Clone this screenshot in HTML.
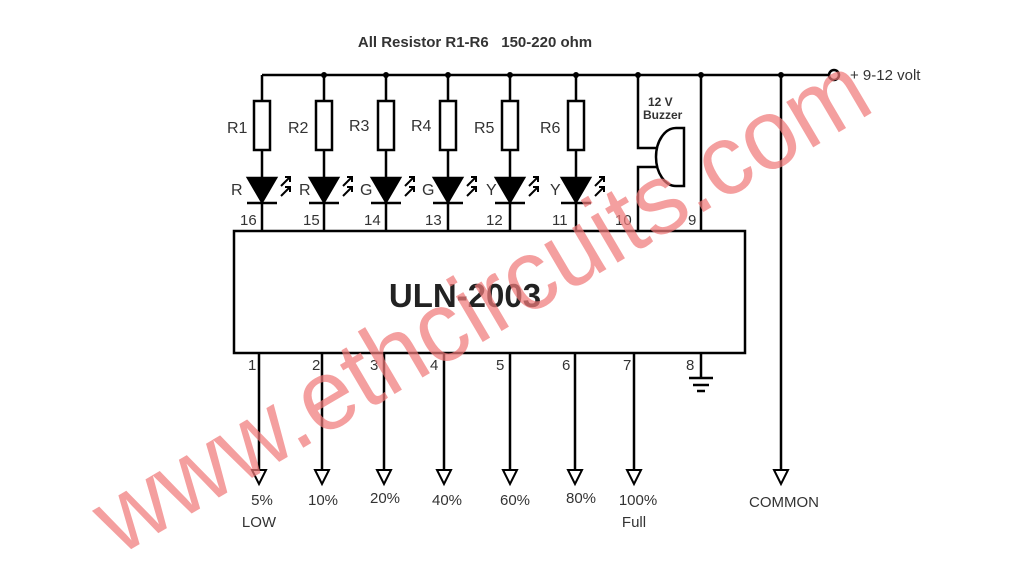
<!DOCTYPE html>
<html><head><meta charset="utf-8"><style>
html,body{margin:0;padding:0;background:#fff;}
svg{display:block;font-family:"Liberation Sans",Arial,sans-serif;}
</style></head><body>
<svg width="1024" height="576" viewBox="0 0 1024 576" xmlns="http://www.w3.org/2000/svg">
<rect width="1024" height="576" fill="#fff"/>
<text x="475" y="47" font-size="15" font-weight="bold" fill="#333" text-anchor="middle" xml:space="preserve">All Resistor R1-R6   150-220 ohm</text>
<g stroke="#000" stroke-width="2.5" fill="none">
<line x1="262" y1="75" x2="829" y2="75"/>
<circle cx="834" cy="75" r="5" fill="#fff"/>
<line x1="781" y1="75" x2="781" y2="470"/>
<polygon points="774,470 788,470 781,484" stroke-width="2"/>
<rect x="234" y="231" width="511" height="122"/>
<polyline points="638,75 638,148 657,148"/>
<polyline points="638,232 638,167 657,167"/>
<path d="M684,128 L676,128 A20,29 0 0 0 676,186 L684,186 Z"/>
<line x1="701" y1="75" x2="701" y2="232"/>
<line x1="701" y1="353" x2="701" y2="378"/>
<line x1="689" y1="378" x2="713" y2="378"/>
<line x1="693" y1="385" x2="709" y2="385"/>
<line x1="697" y1="391" x2="705" y2="391"/>
</g>
<g fill="#000">
<circle cx="324" cy="75" r="3"/><circle cx="386" cy="75" r="3"/><circle cx="448" cy="75" r="3"/>
<circle cx="510" cy="75" r="3"/><circle cx="576" cy="75" r="3"/><circle cx="638" cy="75" r="3"/>
<circle cx="701" cy="75" r="3"/><circle cx="781" cy="75" r="3"/>
</g>
<text x="850" y="80" font-size="15" fill="#333">+  9-12 volt</text>
<text x="648" y="106" font-size="12" font-weight="bold" fill="#333">12 V</text>
<text x="643" y="119" font-size="12" font-weight="bold" fill="#333">Buzzer</text>
<g stroke="#000" stroke-width="2.5" fill="none">
<line x1="262" y1="75" x2="262" y2="231"/><line x1="324" y1="75" x2="324" y2="231"/><line x1="386" y1="75" x2="386" y2="231"/>
<line x1="448" y1="75" x2="448" y2="231"/><line x1="510" y1="75" x2="510" y2="231"/><line x1="576" y1="75" x2="576" y2="231"/>
</g>
<g stroke="#000" stroke-width="2.5" fill="#fff">
<rect x="254" y="101" width="16" height="49"/><rect x="316" y="101" width="16" height="49"/><rect x="378" y="101" width="16" height="49"/>
<rect x="440" y="101" width="16" height="49"/><rect x="502" y="101" width="16" height="49"/><rect x="568" y="101" width="16" height="49"/>
</g>
<g fill="#000" stroke="#000" stroke-width="2.5">
<polygon points="248,178 276,178 262,202"/><line x1="247" y1="203" x2="277" y2="203"/>
<polygon points="310,178 338,178 324,202"/><line x1="309" y1="203" x2="339" y2="203"/>
<polygon points="372,178 400,178 386,202"/><line x1="371" y1="203" x2="401" y2="203"/>
<polygon points="434,178 462,178 448,202"/><line x1="433" y1="203" x2="463" y2="203"/>
<polygon points="496,178 524,178 510,202"/><line x1="495" y1="203" x2="525" y2="203"/>
<polygon points="562,178 590,178 576,202"/><line x1="561" y1="203" x2="591" y2="203"/>
</g>
<g stroke="#000" stroke-width="2" fill="none">
<path d="M281,186 l9,-9 m-5,0 h5 v5 M281,196 l9,-9 m-5,0 h5 v5"/>
<path d="M343,186 l9,-9 m-5,0 h5 v5 M343,196 l9,-9 m-5,0 h5 v5"/>
<path d="M405,186 l9,-9 m-5,0 h5 v5 M405,196 l9,-9 m-5,0 h5 v5"/>
<path d="M467,186 l9,-9 m-5,0 h5 v5 M467,196 l9,-9 m-5,0 h5 v5"/>
<path d="M529,186 l9,-9 m-5,0 h5 v5 M529,196 l9,-9 m-5,0 h5 v5"/>
<path d="M595,186 l9,-9 m-5,0 h5 v5 M595,196 l9,-9 m-5,0 h5 v5"/>
</g>
<g font-size="16" fill="#333">
<text x="227" y="133">R1</text><text x="288" y="133">R2</text><text x="349" y="131">R3</text>
<text x="411" y="131">R4</text><text x="474" y="133">R5</text><text x="540" y="133">R6</text>
<text x="231" y="195">R</text><text x="299" y="195">R</text><text x="360" y="195">G</text>
<text x="422" y="195">G</text><text x="486" y="195">Y</text><text x="550" y="195">Y</text>
</g>
<g font-size="15" fill="#333">
<text x="240" y="225">16</text><text x="303" y="225">15</text><text x="364" y="225">14</text>
<text x="425" y="225">13</text><text x="486" y="225">12</text><text x="552" y="225">11</text>
<text x="615" y="225">10</text><text x="688" y="225">9</text>
<text x="248" y="370">1</text><text x="312" y="370">2</text><text x="370" y="370">3</text>
<text x="430" y="370">4</text><text x="496" y="370">5</text><text x="562" y="370">6</text>
<text x="623" y="370">7</text><text x="686" y="370">8</text>
</g>
<text x="465" y="307" font-size="33" font-weight="bold" fill="#222" text-anchor="middle">ULN-2003</text>
<g stroke="#000" stroke-width="2.5" fill="none">
<line x1="259" y1="353" x2="259" y2="470"/><line x1="322" y1="353" x2="322" y2="470"/><line x1="384" y1="353" x2="384" y2="470"/>
<line x1="444" y1="353" x2="444" y2="470"/><line x1="510" y1="353" x2="510" y2="470"/><line x1="575" y1="353" x2="575" y2="470"/>
<line x1="634" y1="353" x2="634" y2="470"/>
</g>
<g stroke="#000" stroke-width="2" fill="#fff">
<polygon points="252,470 266,470 259,484"/><polygon points="315,470 329,470 322,484"/><polygon points="377,470 391,470 384,484"/>
<polygon points="437,470 451,470 444,484"/><polygon points="503,470 517,470 510,484"/><polygon points="568,470 582,470 575,484"/>
<polygon points="627,470 641,470 634,484"/>
</g>
<g font-size="15" fill="#333" text-anchor="middle">
<text x="262" y="505">5%</text><text x="259" y="527">LOW</text>
<text x="323" y="505">10%</text><text x="385" y="503">20%</text><text x="447" y="505">40%</text>
<text x="515" y="505">60%</text><text x="581" y="503">80%</text><text x="638" y="505">100%</text>
<text x="634" y="527">Full</text><text x="784" y="507">COMMON</text>
</g>
<text x="0" y="0" font-size="100" fill="#f07a7a" fill-opacity="0.72" text-anchor="middle" transform="translate(498,333) rotate(-30.5)" textLength="880" lengthAdjust="spacingAndGlyphs">www.ethcircuits.com</text>
</svg>
</body></html>
